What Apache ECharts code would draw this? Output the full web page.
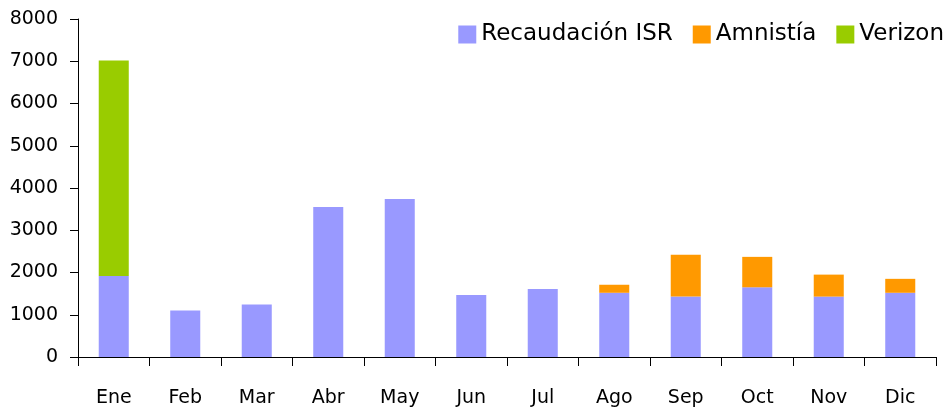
<!DOCTYPE html>
<html>
<head>
<meta charset="utf-8">
<script src="https://cdn.jsdelivr.net/npm/echarts@6/dist/echarts.min.js"></script>
<style>
  html, body { margin: 0; padding: 0; background: #fff; }
  #chart { width: 951px; height: 410px; }
</style>
</head>
<body>
<div id="chart"></div>
<script>
var months = ['Ene', 'Feb', 'Mar', 'Abr', 'May', 'Jun', 'Jul', 'Ago', 'Sep', 'Oct', 'Nov', 'Dic'];
var isr = [1920, 1100, 1240, 3550, 3740, 1470, 1610, 1520, 1430, 1650, 1430, 1520];
var amnistia = [0, 0, 0, 0, 0, 0, 0, 190, 990, 720, 520, 330];
var verizon = [5100, 0, 0, 0, 0, 0, 0, 0, 0, 0, 0, 0];

var chart = echarts.init(document.getElementById('chart'));
var fontName = 'DejaVu Sans';

var option = {
    animation: false,
    textStyle: { fontFamily: fontName },
    grid: { left: 78, right: 15, top: 19, bottom: 53 },
    legend: {
        right: 2,
        top: 18,
        itemWidth: 18,
        itemHeight: 18,
        itemGap: 20,
        icon: 'rect',
        textStyle: { fontSize: 23, color: '#000', fontFamily: fontName },
        data: ['Recaudación ISR', 'Amnistía', 'Verizon']
    },
    xAxis: {
        type: 'category',
        data: months,
        axisLine: { lineStyle: { color: '#000', width: 1 } },
        axisTick: { show: true, length: 9, lineStyle: { color: '#000' } },
        axisLabel: { color: '#000', fontSize: 19, margin: 32 }
    },
    yAxis: {
        type: 'value',
        min: 0,
        max: 8000,
        interval: 1000,
        splitLine: { show: false },
        axisLine: { show: true, lineStyle: { color: '#000', width: 1 } },
        axisTick: { show: true, length: 8, lineStyle: { color: '#000' } },
        axisLabel: {
            color: '#000',
            fontSize: 19,
            margin: 20,
            formatter: function (v) { return String(v); }
        }
    },
    series: [{
        name: 'Recaudación ISR',
        type: 'bar',
        stack: 'total',
        barWidth: '42%',
        itemStyle: { color: '#9999FF' },
        data: isr
    }, {
        name: 'Amnistía',
        type: 'bar',
        stack: 'total',
        itemStyle: { color: '#FF9900' },
        data: amnistia
    }, {
        name: 'Verizon',
        type: 'bar',
        stack: 'total',
        itemStyle: { color: '#99CC00' },
        data: verizon
    }]
};
chart.setOption(option);
</script>
</body>
</html>
